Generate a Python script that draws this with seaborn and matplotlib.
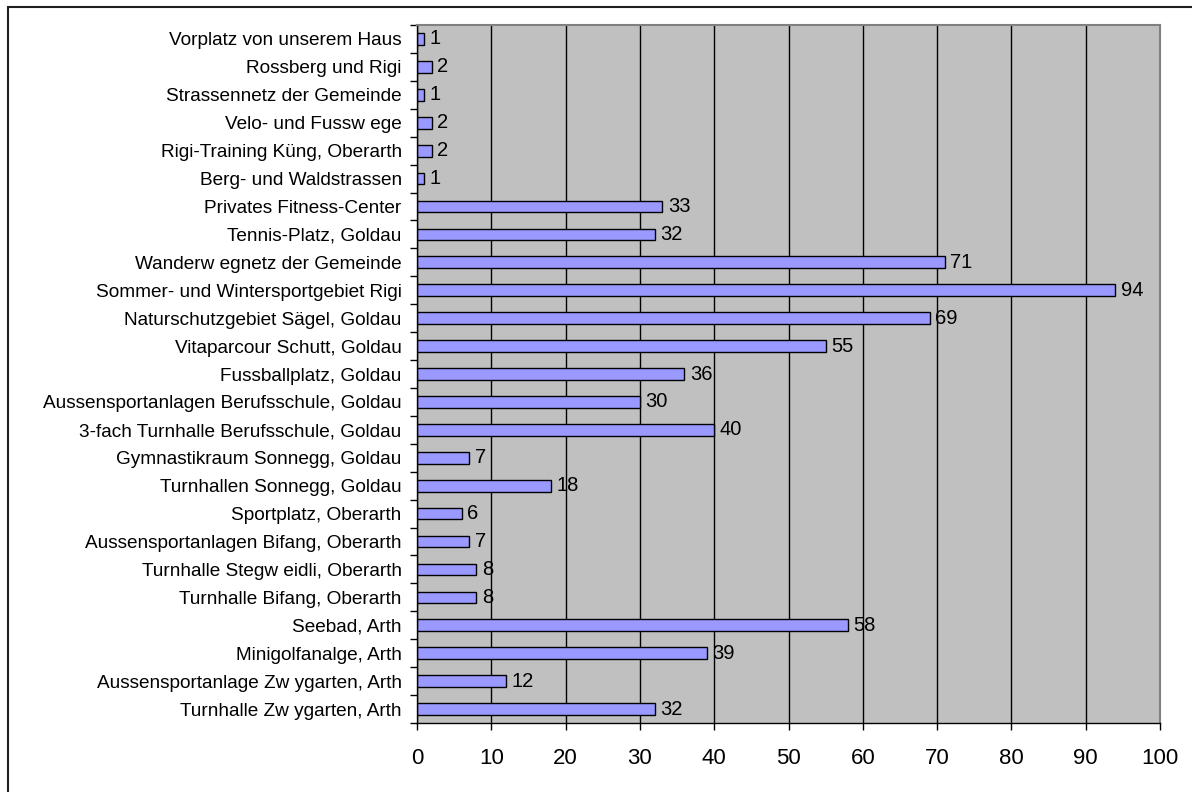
import matplotlib
matplotlib.use("Agg")
import matplotlib.pyplot as plt
import seaborn as sns
from matplotlib.patches import Rectangle

# Categories from top to bottom, as in the chart
places = [
    "Vorplatz von unserem Haus",
    "Rossberg und Rigi",
    "Strassennetz der Gemeinde",
    "Velo- und Fussw ege",
    "Rigi-Training Küng, Oberarth",
    "Berg- und Waldstrassen",
    "Privates Fitness-Center",
    "Tennis-Platz, Goldau",
    "Wanderw egnetz der Gemeinde",
    "Sommer- und Wintersportgebiet Rigi",
    "Naturschutzgebiet Sägel, Goldau",
    "Vitaparcour Schutt, Goldau",
    "Fussballplatz, Goldau",
    "Aussensportanlagen Berufsschule, Goldau",
    "3-fach Turnhalle Berufsschule, Goldau",
    "Gymnastikraum Sonnegg, Goldau",
    "Turnhallen Sonnegg, Goldau",
    "Sportplatz, Oberarth",
    "Aussensportanlagen Bifang, Oberarth",
    "Turnhalle Stegw eidli, Oberarth",
    "Turnhalle Bifang, Oberarth",
    "Seebad, Arth",
    "Minigolfanalge, Arth",
    "Aussensportanlage Zw ygarten, Arth",
    "Turnhalle Zw ygarten, Arth",
]
counts = [1, 2, 1, 2, 2, 1, 33, 32, 71, 94, 69, 55, 36, 30, 40, 7, 18, 6, 7, 8, 8, 58, 39, 12, 32]
x_ticks = list(range(0, 101, 10))

sns.set_style("white")
plt.rcParams['font.family'] = ['Liberation Sans', 'DejaVu Sans']
plt.rcParams['text.color'] = 'black'
plt.rcParams['xtick.color'] = 'black'
plt.rcParams['ytick.color'] = 'black'

fig = plt.figure(figsize=(11.92, 7.92), dpi=100)
ax = fig.add_axes([0.3498, 0.0871, 0.6234, 0.8813])

# outer chart frame (only top and left visible in the original)
fig.patches.append(Rectangle((8 / 1192, -0.05), 1.2, (792 - 7) / 792 + 0.05,
                             transform=fig.transFigure, fill=False,
                             edgecolor='#202020', linewidth=1.5))

sns.barplot(x=counts, y=places, orient='h', color='#9999FF', saturation=1,
            edgecolor='black', linewidth=1, width=0.42, ax=ax)

ax.set_facecolor('#C0C0C0')
ax.set_xlim(0, 100)
ax.set_ylim(len(places) - 0.5, -0.5)
ax.set_xticks(x_ticks)
ax.xaxis.grid(True, color='black', linewidth=1)
ax.set_axisbelow(True)

for side in ['top', 'right']:
    ax.spines[side].set_color('#808080')
    ax.spines[side].set_linewidth(1.5)
for side in ['left', 'bottom']:
    ax.spines[side].set_color('black')
    ax.spines[side].set_linewidth(1)

ax.set_yticks([i + 0.5 for i in range(-1, len(places))], minor=True)
ax.tick_params(axis='y', which='major', length=0, pad=11, labelsize=13.7)
ax.tick_params(axis='y', which='minor', length=5, width=1, color='black', direction='out', left=True)
ax.tick_params(axis='x', length=5, width=1, color='black', direction='out', bottom=True,
               labelsize=16, pad=13)

ax.bar_label(ax.containers[0], padding=4, fontsize=14.5)
ax.set_xlabel('')
ax.set_ylabel('')

fig.savefig('out.png', dpi=100)
